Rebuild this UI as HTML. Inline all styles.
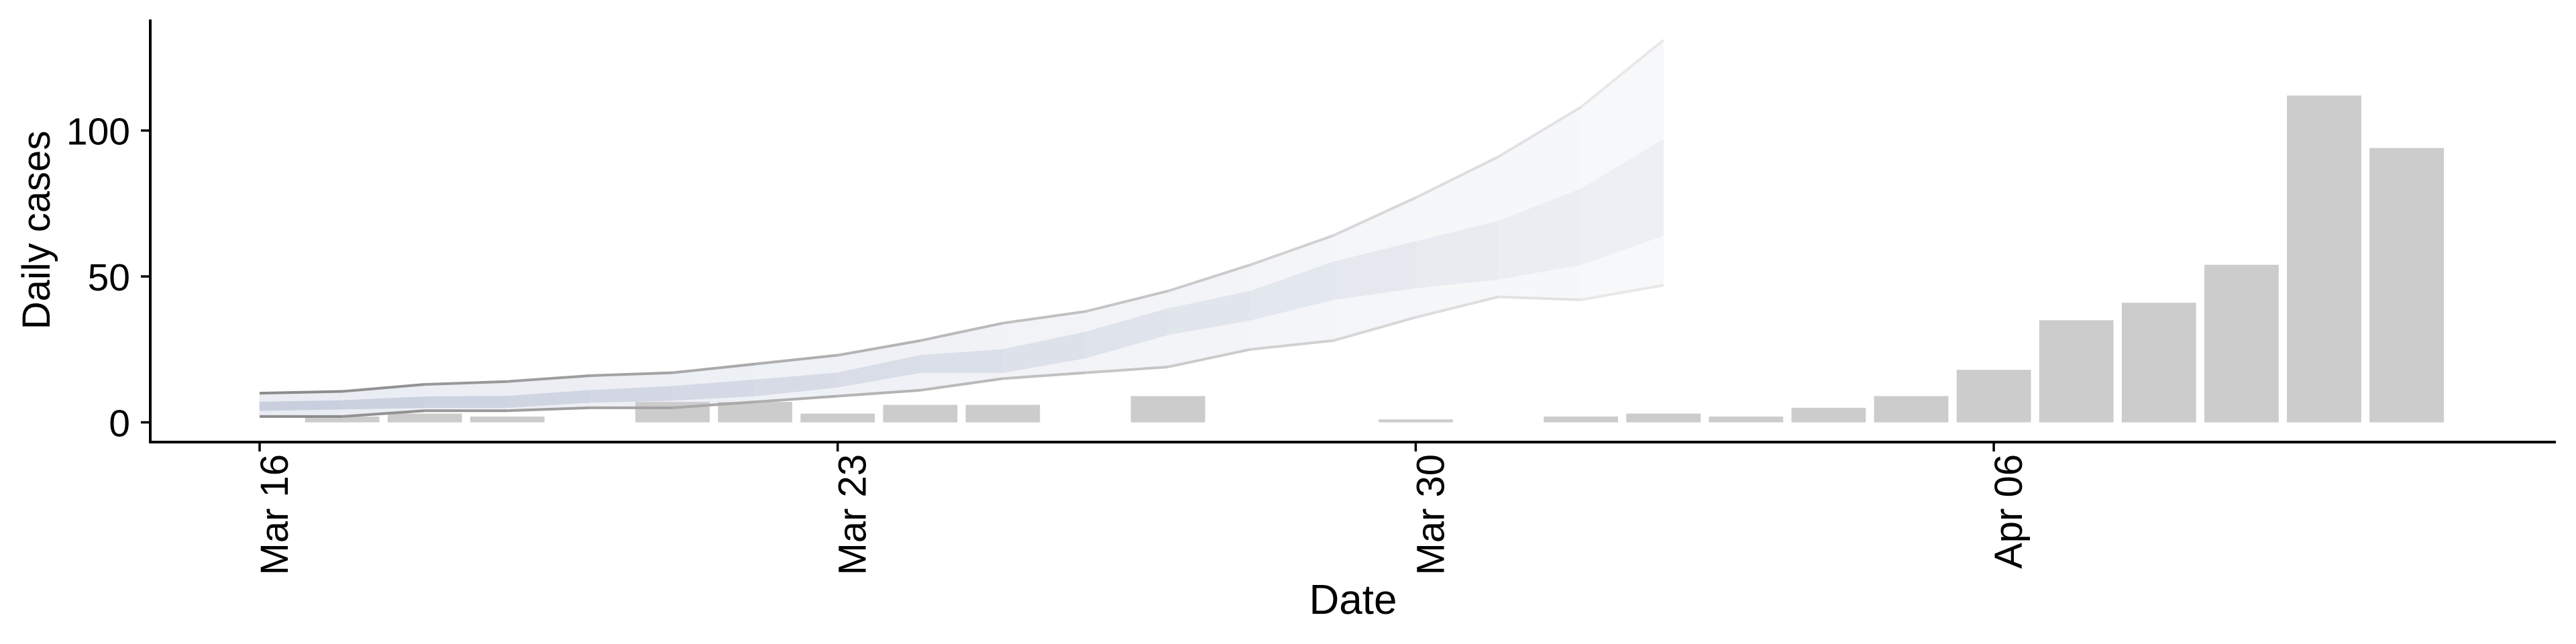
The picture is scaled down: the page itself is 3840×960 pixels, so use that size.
<!DOCTYPE html>
<html><head><meta charset="utf-8"><style>
html,body{margin:0;padding:0;background:#fff;}
svg{display:block;font-family:"Liberation Sans",Arial,sans-serif;}
</style></head><body>
<svg id="chart" width="3840" height="960" viewBox="0 0 3840 960" xmlns="http://www.w3.org/2000/svg">
<g id="ribbons"></g>
<g id="bars"></g>
<g id="lines"></g>
<g id="axes"></g>
</svg>
<script>
// Observed daily cases (day offset from Mar 16)
const barDays   = [1,2,3,5,6,7,8,9,11,14,16,17,18,19,20,21,22,23,24,25,26];
const barValues = [2,3,2,7,7,3,6,6,9,1,2,3,2,5,9,18,35,41,54,112,94];
// Forecast (Mar 16 .. Apr 2)
const fcDays     = [0,1,2,3,4,5,6,7,8,9,10,11,12,13,14,15,16,17];
const outerUpper = [10,10.6,13,14,16,17,20,23,28,34,38,45,54,64,77,91,108,131];
const outerLower = [2,2,4,4,5,5,7,9,11,15,17,19,25,28,36,43,42,47];
const innerUpper = [7,7.5,8.8,9,11,12.4,14.6,17,23,25,31,39,45,55,62,69,80,97];
const innerLower = [4,4.5,5,5,6.8,7.5,9,12,17,17,22,30,35,42,46,49,54,64];
const yTicks = [0,50,100];
const xTickDays = [0,7,14,21];
const xTickLabels = ["Mar 16","Mar 23","Mar 30","Apr 06"];

const NS="http://www.w3.org/2000/svg";
const x0=387, dayW=123.1, y0=629.6, pxPer=4.35;
const X=d=>x0+d*dayW;
const Y=v=>y0-v*pxPer;
function mk(tag,attrs,parent){const e=document.createElementNS(NS,tag);for(const k in attrs)e.setAttribute(k,attrs[k]);parent.appendChild(e);return e;}
function lerpCol(a,b,t){return "rgb("+a.map((c,i)=>Math.round(c+(b[i]-c)*t)).join(",")+")";}

const rib=document.getElementById('ribbons');
const n=fcDays.length;
for(let i=0;i<n-1;i++){
  const t=i/(n-2);
  const a=fcDays[i], b=fcDays[i+1];
  const op=mk('polygon',{points:`${X(a)},${Y(outerUpper[i])} ${X(b)},${Y(outerUpper[i+1])} ${X(b)},${Y(outerLower[i+1])} ${X(a)},${Y(outerLower[i])}`,fill:lerpCol([233,236,242],[247,248,250],t),stroke:lerpCol([233,236,242],[247,248,250],t),'stroke-width':0.6},rib);
  
  
  const ip=mk('polygon',{points:`${X(a)},${Y(innerUpper[i])} ${X(b)},${Y(innerUpper[i+1])} ${X(b)},${Y(innerLower[i+1])} ${X(a)},${Y(innerLower[i])}`,fill:lerpCol([201,207,222],[236,239,243],t),stroke:lerpCol([201,207,222],[236,239,243],t),'stroke-width':0.6},rib);
  
  
}

const bars=document.getElementById('bars');
const bw=dayW*0.9;
barDays.forEach((d,i)=>{
  const r=mk('rect',{x:X(d)-bw/2,y:Y(barValues[i]),width:bw,height:barValues[i]*pxPer,fill:'#cccccc'},bars);
  
  
});

const lines=document.getElementById('lines');
for(let i=0;i<n-1;i++){
  const t=i/(n-2);
  const c=lerpCol([140,140,140],[232,232,232],t);
  [outerUpper,outerLower].forEach(arr=>{
    const l=mk('line',{x1:X(fcDays[i]),y1:Y(arr[i]),x2:X(fcDays[i+1]),y2:Y(arr[i+1]),stroke:c,'stroke-width':4,'stroke-linecap':'butt'},lines);
    
    
  });
}

const ax=document.getElementById('axes');
const ya=mk('line',{x1:224,y1:29,x2:224,y2:661,stroke:'#000','stroke-width':4},ax);


const xa=mk('line',{x1:222,y1:659,x2:3810,y2:659,stroke:'#000','stroke-width':4},ax);


yTicks.forEach(v=>{
  const tk=mk('line',{x1:210,y1:Y(v),x2:224,y2:Y(v),stroke:'#000','stroke-width':3.5},ax);
  
  
  const tx=mk('text',{x:194,y:Y(v)+21,'text-anchor':'end','font-size':57,fill:'#000'},ax);
  tx.textContent=String(v);
  
  
});
xTickDays.forEach((d,i)=>{
  const tk=mk('line',{x1:X(d),y1:659,x2:X(d),y2:673,stroke:'#000','stroke-width':3.5},ax);
  
  
  const tx=mk('text',{x:0,y:0,'text-anchor':'end','font-size':58,fill:'#000',transform:`translate(${X(d)+42},677) rotate(-90)`},ax);
  tx.textContent=xTickLabels[i];
  
  
});
const yt=mk('text',{x:0,y:0,'text-anchor':'middle','font-size':58,fill:'#000',transform:'translate(74,343) rotate(-90)'},ax);
yt.textContent='Daily cases';


const xt=mk('text',{x:2017,y:915,'text-anchor':'middle','font-size':62,fill:'#000'},ax);
xt.textContent='Date';


</script>
</body></html>
